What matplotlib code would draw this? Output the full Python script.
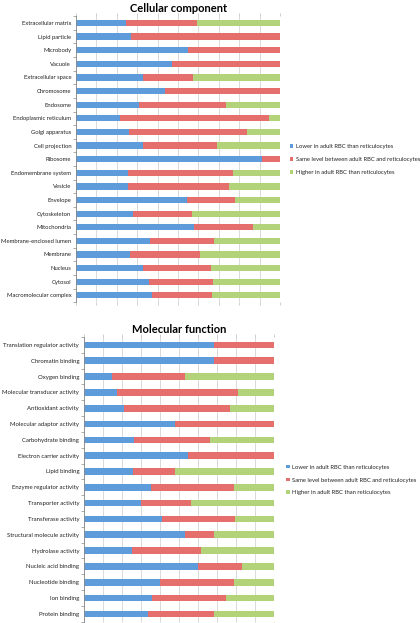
import numpy as np
import matplotlib
matplotlib.use('Agg')
import matplotlib.pyplot as plt
from matplotlib.patches import Patch

plt.rcParams['font.family'] = ['Lato', 'DejaVu Sans']

# Cellular component (percent of proteins)
cc_labels = [
    'Extracellular matrix', 'Lipid particle', 'Microbody', 'Vacuole',
    'Extracellular space', 'Chromosome', 'Endosome', 'Endoplasmic reticulum',
    'Golgi apparatus', 'Cell projection', 'Ribosome', 'Endomembrane system',
    'Vesicle', 'Envelope', 'Cytoskeleton', 'Mitochondria',
    'Membrane-enclosed lumen', 'Membrane', 'Nucleus', 'Cytosol',
    'Macromolecular complex',
]
cc_lower = [24.4, 27.0, 55.0, 46.8, 32.6, 43.5, 30.8, 21.4, 26.0, 32.6, 91.0,
            25.4, 25.4, 54.2, 28.0, 57.8, 36.2, 26.4, 32.6, 35.7, 37.3]
cc_same = [35.0, 73.0, 45.0, 53.2, 24.5, 56.5, 42.7, 72.9, 57.6, 36.6, 9.0,
           51.5, 49.6, 23.7, 29.0, 28.9, 31.4, 34.3, 33.5, 31.6, 29.5]
cc_higher = [40.6, 0.0, 0.0, 0.0, 42.9, 0.0, 26.5, 5.7, 16.4, 30.8, 0.0,
             23.1, 25.0, 22.1, 43.0, 13.3, 32.4, 39.3, 33.9, 32.7, 33.2]

# Molecular function (percent of proteins)
mf_labels = [
    'Translation regulator activity', 'Chromatin binding', 'Oxygen binding',
    'Molecular transducer activity', 'Antioxidant activity',
    'Molecular adaptor activity', 'Carbohydrate binding',
    'Electron carrier activity', 'Lipid binding', 'Enzyme regulator activity',
    'Transporter activity', 'Transferase activity',
    'Structural molecule activity', 'Hydrolase activity',
    'Nucleic acid binding', 'Nucleotide binding', 'Ion binding',
    'Protein binding',
]
mf_lower = [68.5, 68.5, 14.9, 17.5, 21.0, 48.0, 26.3, 54.5, 25.6, 35.0, 29.8,
            41.0, 53.2, 25.2, 60.0, 40.0, 35.7, 33.5]
mf_same = [31.5, 31.5, 38.3, 63.2, 55.5, 52.0, 39.9, 45.5, 22.2, 43.6, 26.6,
           38.3, 15.1, 36.4, 23.0, 38.8, 38.9, 34.8]
mf_higher = [0.0, 0.0, 46.8, 19.3, 23.5, 0.0, 33.8, 0.0, 52.2, 21.4, 43.6,
             20.7, 31.7, 38.4, 17.0, 21.2, 25.4, 31.7]

series_names = [
    'Lower in adult RBC than reticulocytes',
    'Same level between adult RBC and reticulocytes',
    'Higher in adult RBC than reticulocytes',
]
colors = ['#5D9BDB', '#E46F6C', '#B3D37A']


def draw_panel(ax, labels, lower, same, higher, title, bar_h, label_size):
    y = np.arange(len(labels))
    left = np.zeros(len(labels))
    for vals, c in zip([lower, same, higher], colors):
        vals = np.array(vals)
        ax.barh(y, vals, left=left, height=bar_h, color=c, edgecolor='none', zorder=2)
        left += vals
    ax.set_xlim(0, 100)
    ax.set_ylim(len(labels) - 0.5, -0.5)
    ax.set_yticks(y)
    ax.set_yticklabels(labels, fontsize=label_size, color='#222222')
    ax.set_yticks(np.arange(len(labels) + 1) - 0.5, minor=True)
    ax.tick_params(axis='y', which='major', length=0, pad=3.5)
    ax.tick_params(axis='y', which='minor', length=2, width=0.5, color='#888888')
    ax.set_xticks(np.arange(0, 101, 10))
    ax.tick_params(axis='x', length=2, width=0.5, color='#bbbbbb', labelbottom=False,
                   top=True, bottom=True)
    ax.grid(axis='x', color='#d4d4d4', linewidth=0.6, zorder=0)
    for s in ['top', 'right', 'bottom']:
        ax.spines[s].set_visible(False)
    ax.spines['left'].set_color('#888888')
    ax.spines['left'].set_linewidth(0.6)
    ax.set_title(title, fontsize=8, fontweight='bold', pad=3)


fig = plt.figure(figsize=(4.2, 6.23), dpi=100)

ax1 = fig.add_axes([0.181, 0.515, 0.486, 0.459])
draw_panel(ax1, cc_labels, cc_lower, cc_same, cc_higher, 'Cellular component', 0.46, 4.2)

ax2 = fig.add_axes([0.200, 0.002, 0.453, 0.457])
draw_panel(ax2, mf_labels, mf_lower, mf_same, mf_higher, 'Molecular function', 0.42, 4.3)

handles = [Patch(facecolor=c, edgecolor='none') for c in colors]
for anchor in [(0.683, 0.744), (0.675, 0.2295)]:
    fig.legend(handles, series_names, loc='center left', bbox_to_anchor=anchor,
               frameon=False, fontsize=4.2, handlelength=0.6, handleheight=0.6,
               handletextpad=0.4, labelspacing=1.35, borderpad=0, labelcolor='#222222')

fig.savefig('out.png', dpi=100)
